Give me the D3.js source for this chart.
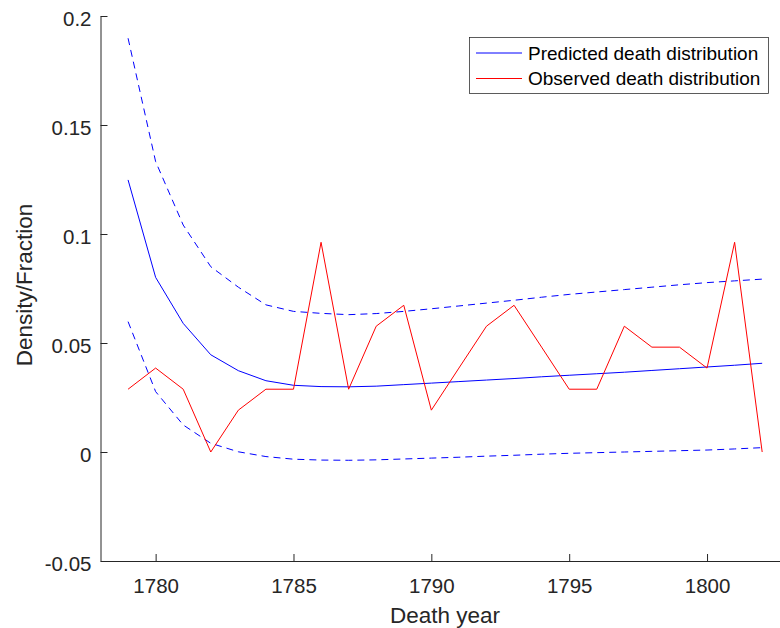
<!DOCTYPE html>
<html>
<head>
<meta charset="utf-8">
<script src="https://cdn.jsdelivr.net/npm/d3@7"></script>
<style>
  body { margin: 0; background: #fff; }
  svg { display: block; font-family: "Liberation Sans", Arial, sans-serif; }
</style>
</head>
<body>
<div id="chart"></div>
<script>
// death years on the x axis
var years = [1779, 1780, 1781, 1782, 1783, 1784, 1785, 1786, 1787, 1788, 1789, 1790,
             1791, 1792, 1793, 1794, 1795, 1796, 1797, 1798, 1799, 1800, 1801, 1802];

// predicted density (solid blue) with its upper / lower bands (dashed blue)
var predicted = [0.1248, 0.0801, 0.0590, 0.0446, 0.0373, 0.0327, 0.0306, 0.0300, 0.0299, 0.0302, 0.0309, 0.0316,
                 0.0323, 0.0330, 0.0337, 0.0345, 0.0352, 0.0359, 0.0366, 0.0374, 0.0382, 0.0390, 0.0398, 0.0407];
var upperBand = [0.1898, 0.1332, 0.1041, 0.0850, 0.0756, 0.0675, 0.0645, 0.0636, 0.0630, 0.0635, 0.0645, 0.0657,
                 0.0670, 0.0683, 0.0696, 0.0710, 0.0723, 0.0734, 0.0745, 0.0756, 0.0767, 0.0777, 0.0785, 0.0793];
var lowerBand = [0.0598, 0.0277, 0.0124, 0.0040, 0.0001, -0.0021, -0.0033, -0.0037, -0.0038, -0.0036, -0.0032, -0.0028,
                 -0.0024, -0.0019, -0.0015, -0.0010, -0.0006, -0.0003, 0.0000, 0.0003, 0.0006, 0.0009, 0.0014, 0.0020];

// observed fraction of deaths (red)
var observed = [0.0288, 0.0385, 0.0288, 0.0000, 0.0192, 0.0288, 0.0288, 0.0962, 0.0288, 0.0577, 0.0673, 0.0192,
                0.0385, 0.0577, 0.0673, 0.0481, 0.0288, 0.0288, 0.0577, 0.0481, 0.0481, 0.0385, 0.0962, 0.0000];

var xTicks = [1780, 1785, 1790, 1795, 1800];
var yTicks = [-0.05, 0, 0.05, 0.1, 0.15, 0.2];
var yTickLabels = ["-0.05", "0", "0.05", "0.1", "0.15", "0.2"];
var legendLabels = ["Predicted death distribution", "Observed death distribution"];

var W = 780, H = 628;
var axisColor = "#262626";

var x = d3.scaleLinear().domain([1778, 1803]).range([100.5, 789.75]);
var y = d3.scaleLinear().domain([-0.05, 0.2]).range([561, 16]);

var svg = d3.select("#chart").append("svg")
  .attr("width", W)
  .attr("height", H);

svg.append("defs").append("clipPath")
  .attr("id", "plotClip")
  .append("rect")
  .attr("x", 100.5).attr("y", 16)
  .attr("width", 689.25).attr("height", 545);

// lines
function makeLine(values) {
  return d3.line()
    .x(function(d, i) { return x(years[i]); })
    .y(function(d) { return y(d); })(values);
}

var plot = svg.append("g").attr("clip-path", "url(#plotClip)");

[upperBand, lowerBand].forEach(function(band) {
  plot.append("path")
    .attr("d", makeLine(band))
    .attr("fill", "none")
    .attr("stroke", "#0000ff")
    .attr("stroke-width", 1)
    .attr("stroke-dasharray", "7,5");
});

plot.append("path")
  .attr("d", makeLine(predicted))
  .attr("fill", "none")
  .attr("stroke", "#0000ff")
  .attr("stroke-width", 1);

plot.append("path")
  .attr("d", makeLine(observed))
  .attr("fill", "none")
  .attr("stroke", "#ff0000")
  .attr("stroke-width", 1);

// x axis, ticks point inward
var gx = svg.append("g")
  .attr("transform", "translate(0,561)")
  .call(d3.axisBottom(x)
    .tickValues(xTicks)
    .tickFormat(d3.format("d"))
    .tickSizeInner(-7)
    .tickSizeOuter(0)
    .tickPadding(17));

// y axis
var gy = svg.append("g")
  .attr("transform", "translate(100.5,0)")
  .call(d3.axisLeft(y)
    .tickValues(yTicks)
    .tickFormat(function(d, i) { return yTickLabels[i]; })
    .tickSizeInner(-7)
    .tickSizeOuter(0)
    .tickPadding(9));

[gx, gy].forEach(function(g) {
  g.select(".domain").attr("stroke", axisColor).attr("stroke-width", 1);
  g.selectAll(".tick line").attr("stroke", axisColor).attr("stroke-width", 1);
  g.selectAll(".tick text")
    .attr("fill", axisColor)
    .style("font-size", "20.5px")
    .style("font-family", "'Liberation Sans', Arial, sans-serif");
});
gy.selectAll(".tick text").attr("dy", "0.47em");

// axis labels
svg.append("text")
  .attr("x", 445)
  .attr("y", 623)
  .attr("text-anchor", "middle")
  .attr("fill", axisColor)
  .style("font-size", "22.5px")
  .text("Death year");

svg.append("text")
  .attr("transform", "translate(32,285) rotate(-90)")
  .attr("text-anchor", "middle")
  .attr("fill", axisColor)
  .style("font-size", "22.5px")
  .text("Density/Fraction");

// legend
var legend = svg.append("g");
legend.append("rect")
  .attr("x", 469.5).attr("y", 37.5)
  .attr("width", 299).attr("height", 56)
  .attr("fill", "#fff")
  .attr("stroke", axisColor)
  .attr("stroke-width", 0.75);

var legendColors = ["#0000ff", "#ff0000"];
legendLabels.forEach(function(label, i) {
  var ly = 53 + i * 25.5;
  legend.append("line")
    .attr("x1", 476).attr("x2", 522)
    .attr("y1", ly).attr("y2", ly)
    .attr("stroke", legendColors[i])
    .attr("stroke-width", 1);
  legend.append("text")
    .attr("x", 528)
    .attr("y", ly + 6.8)
    .attr("fill", "#000")
    .style("font-size", "19px")
    .text(label);
});
</script>
</body>
</html>
